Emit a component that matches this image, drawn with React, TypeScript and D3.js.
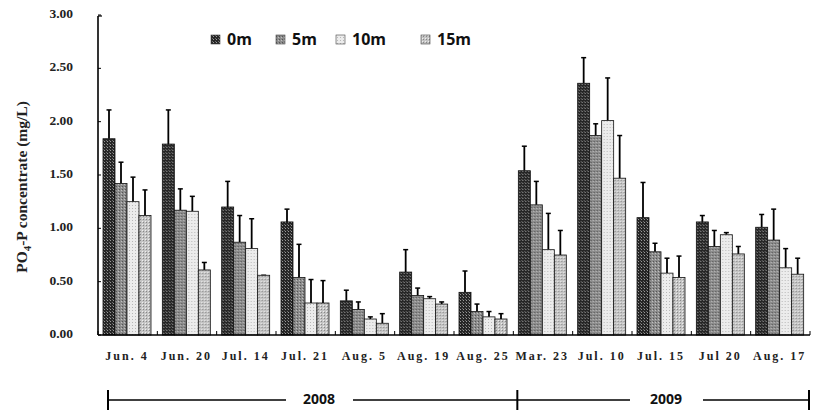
import React from 'react';
import * as d3 from 'd3';

// sampling dates
const categories = ['Jun. 4', 'Jun. 20', 'Jul. 14', 'Jul. 21', 'Aug. 5', 'Aug. 19', 'Aug. 25',
  'Mar. 23', 'Jul. 10', 'Jul. 15', 'Jul 20', 'Aug. 17'];
const depths = ['0m', '5m', '10m', '15m'];

// mean PO4-P per depth
const v0m = [1.84, 1.79, 1.20, 1.06, 0.32, 0.59, 0.40, 1.54, 2.36, 1.10, 1.06, 1.01];
const v5m = [1.42, 1.17, 0.87, 0.54, 0.24, 0.37, 0.22, 1.22, 1.87, 0.78, 0.83, 0.89];
const v10m = [1.25, 1.16, 0.81, 0.30, 0.15, 0.34, 0.17, 0.80, 2.01, 0.58, 0.94, 0.63];
const v15m = [1.12, 0.61, 0.56, 0.30, 0.11, 0.29, 0.15, 0.75, 1.47, 0.54, 0.76, 0.57];

// top of error bar
const e0m = [2.11, 2.11, 1.44, 1.18, 0.42, 0.80, 0.60, 1.77, 2.60, 1.43, 1.12, 1.13];
const e5m = [1.62, 1.37, 1.12, 0.85, 0.31, 0.44, 0.29, 1.44, 1.98, 0.86, 0.98, 1.18];
const e10m = [1.48, 1.30, 1.09, 0.52, 0.17, 0.36, 0.22, 1.14, 2.41, 0.72, 0.96, 0.81];
const e15m = [1.36, 0.68, 0.56, 0.51, 0.20, 0.31, 0.20, 0.98, 1.87, 0.74, 0.83, 0.72];

const yTicks = [0, 0.5, 1.0, 1.5, 2.0, 2.5, 3.0];
const years = ['2008', '2009'];

const values = [v0m, v5m, v10m, v15m];
const errors = [e0m, e5m, e10m, e15m];

export default function App() {
  const width = 818, height = 413;
  const left = 98, right = 810, top = 15, bottom = 335;

  const x = d3.scaleBand().domain(categories).range([left, right]).padding(0);
  const sub = d3.scaleBand().domain(depths).range([5, 53]).padding(0);
  const y = d3.scaleLinear().domain([0, 3]).range([bottom, top]);

  const serif = '"Liberation Serif", "Times New Roman", serif';
  const sans = '"Open Sans", "Liberation Sans", sans-serif';

  // x position of the year bracket ends
  const yr0 = x(categories[0])! + 10;
  const yrMid = x('Mar. 23')! + 4;
  const yrEnd = right - 1;
  const yrY = 400;

  return (
    <svg width={width} height={height} style={{ position: 'absolute', left: 0, top: 0 }}>
      <defs>
        <pattern id="p0" width="3" height="3" patternUnits="userSpaceOnUse">
          <rect width="3" height="3" fill="#262626" />
          <rect x="0" y="0" width="1" height="1" fill="#9a9a9a" />
          <rect x="2" y="2" width="1" height="1" fill="#6a6a6a" />
        </pattern>
        <pattern id="p1" width="3" height="3" patternUnits="userSpaceOnUse">
          <rect width="3" height="3" fill="#8c8c8c" />
          <rect x="0" y="0" width="1" height="1" fill="#555" />
          <rect x="2" y="1" width="1" height="1" fill="#c0c0c0" />
        </pattern>
        <pattern id="p2" width="3" height="3" patternUnits="userSpaceOnUse">
          <rect width="3" height="3" fill="#ececec" />
          <rect x="1" y="1" width="1" height="1" fill="#b8b8b8" />
        </pattern>
        <pattern id="p3" width="3" height="3" patternUnits="userSpaceOnUse">
          <rect width="3" height="3" fill="#c4c4c4" />
          <rect x="0" y="0" width="1" height="1" fill="#888" />
          <rect x="2" y="2" width="1" height="1" fill="#eee" />
        </pattern>
      </defs>

      {/* bars */}
      {categories.map((c, i) => (
        <g key={c} transform={`translate(${x(c)},0)`}>
          {depths.map((d, j) => {
            const v = values[j][i];
            const bx = sub(d)!;
            const bw = sub.bandwidth();
            const cx = bx + bw / 2;
            return (
              <g key={d}>
                <line x1={cx} x2={cx} y1={y(v)} y2={y(errors[j][i])} stroke="#000" strokeWidth={1.8} />
                <line x1={cx - 2.5} x2={cx + 2.5} y1={y(errors[j][i])} y2={y(errors[j][i])} stroke="#000" strokeWidth={1.5} />
                <rect x={bx} y={y(v)} width={bw} height={y(0) - y(v)} fill={`url(#p${j})`} stroke="#111" strokeWidth={0.8} />
              </g>
            );
          })}
        </g>
      ))}

      {/* y axis */}
      <line x1={left} x2={left} y1={y(3) + 1} y2={bottom} stroke="#000" strokeWidth={1.6} />
      <line x1={left} x2={left + 4} y1={y(3) + 1} y2={y(3) + 1} stroke="#000" strokeWidth={1.2} />
      {yTicks.map(t => (
        <g key={t}>
          <line x1={left} x2={left + 3} y1={y(t)} y2={y(t)} stroke="#000" strokeWidth={1} />
          <text x={73} y={y(t)} textAnchor="end" dominantBaseline="middle" fontFamily={serif}
            fontWeight="bold" fontSize={13.5} fill="#222">{t.toFixed(2)}</text>
        </g>
      ))}

      {/* x axis */}
      <line x1={left} x2={right} y1={bottom} y2={bottom} stroke="#000" strokeWidth={1.6} />
      {d3.range(categories.length + 1).map(k => {
        const tx = left + x.step() * k;
        return <line key={k} x1={tx} x2={tx} y1={bottom} y2={bottom - 4} stroke="#000" strokeWidth={1} />;
      })}
      {categories.map(c => (
        <text key={c} x={x(c)! + 29} y={357} textAnchor="middle" dominantBaseline="middle"
          fontFamily={serif} fontWeight="bold" fontSize={12} letterSpacing={2} fill="#222">{c}</text>
      ))}

      {/* y title */}
      <text transform={`translate(27,${187}) rotate(-90)`} textAnchor="middle" fontFamily={serif}
        fontWeight="bold" fontSize={15.5} fill="#222">
        PO<tspan fontSize={11} dy={4}>4</tspan><tspan dy={-4}>-P concentrate (mg/L)</tspan>
      </text>

      {/* legend */}
      {depths.map((d, j) => {
        const lx = [211, 276, 336, 421][j];
        return (
          <g key={d}>
            <rect x={lx} y={35} width={9} height={9} fill={`url(#p${j})`} stroke="#444" strokeWidth={0.6} />
            <text x={lx + 16} y={41} dominantBaseline="middle" fontFamily={sans} fontWeight="bold"
              fontSize={16} fill="#111">{d}</text>
          </g>
        );
      })}

      {/* year brackets */}
      <line x1={yr0} x2={yr0} y1={yrY - 10} y2={yrY + 10} stroke="#000" strokeWidth={2} />
      <line x1={yrMid} x2={yrMid} y1={yrY - 10} y2={yrY + 10} stroke="#000" strokeWidth={2} />
      <line x1={yrEnd} x2={yrEnd} y1={yrY - 10} y2={yrY + 10} stroke="#000" strokeWidth={2} />
      <line x1={yr0} x2={286} y1={yrY} y2={yrY} stroke="#000" strokeWidth={1.4} />
      <line x1={353} x2={yrMid} y1={yrY} y2={yrY} stroke="#000" strokeWidth={1.4} />
      <line x1={yrMid} x2={630} y1={yrY} y2={yrY} stroke="#000" strokeWidth={1.4} />
      <line x1={703} x2={yrEnd} y1={yrY} y2={yrY} stroke="#000" strokeWidth={1.4} />
      <text x={319} y={yrY} textAnchor="middle" dominantBaseline="middle" fontFamily={sans}
        fontWeight="bold" fontSize={14} fill="#111">{years[0]}</text>
      <text x={666} y={yrY} textAnchor="middle" dominantBaseline="middle" fontFamily={sans}
        fontWeight="bold" fontSize={14} fill="#111">{years[1]}</text>
    </svg>
  );
}
